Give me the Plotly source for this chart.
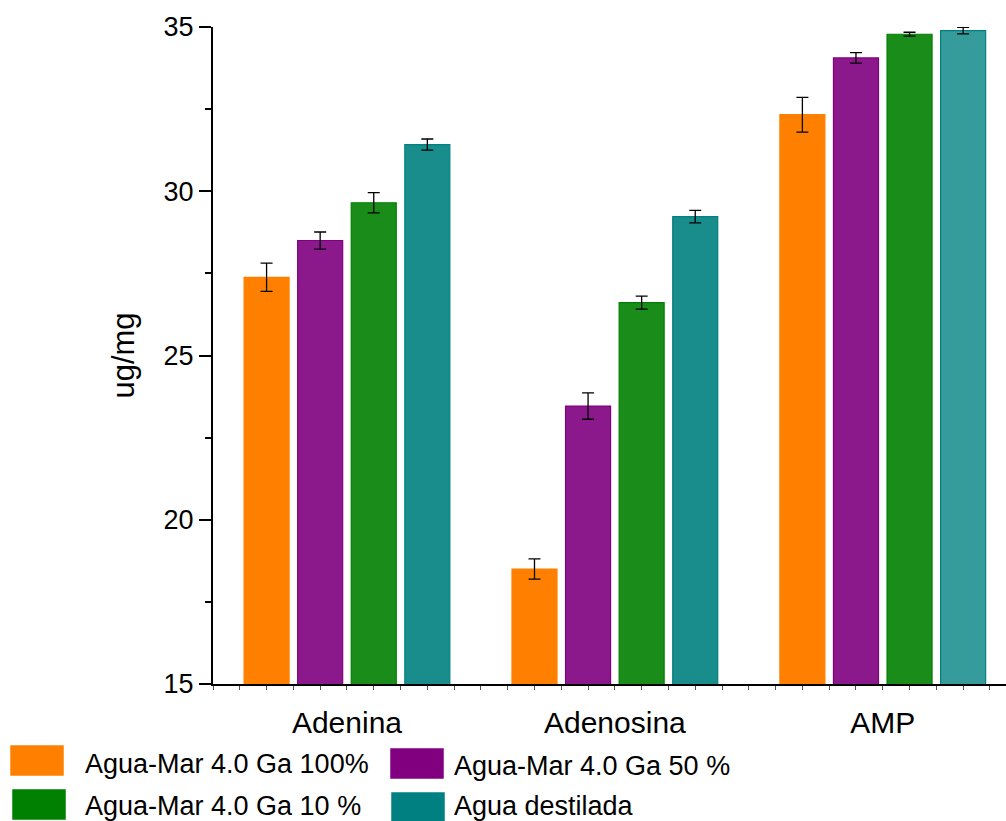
import plotly.graph_objects as go

categories = ["Adenina", "Adenosina", "AMP"]
series_names = ["Agua-Mar 4.0 Ga 100%", "Agua-Mar 4.0 Ga 50 %",
                "Agua-Mar 4.0 Ga 10 %", "Agua destilada"]
vals_100 = [27.38, 18.50, 32.33]
vals_50 = [28.50, 23.46, 34.06]
vals_10 = [29.65, 26.61, 34.78]
vals_dest = [31.42, 29.23, 34.89]
err_100 = [0.43, 0.31, 0.53]
err_50 = [0.26, 0.40, 0.16]
err_10 = [0.31, 0.20, 0.06]
err_dest = [0.17, 0.19, 0.10]
y_ticks = [15, 20, 25, 30, 35]
y_title = "ug/mg"

W, H = 1006, 821
L, R, T, B = 213, 0, 27, 137
FONT = "Liberation Sans, Arial, sans-serif"

fills = [
    ["rgba(255,128,0,1)"] * 3,
    ["rgba(128,0,128,0.9)"] * 3,
    ["rgba(0,128,0,0.9)"] * 3,
    ["rgba(0,128,128,0.9)", "rgba(0,128,128,0.9)", "rgba(0,128,128,0.79)"],
]
lines = ["#FF8000", "#800080", "#008000", "#008080"]
legend_fill = ["#FF8000", "#800080", "#008000", "#008080"]

xs = list(range(len(categories)))
fig = go.Figure()
for name, v, e, f, lc in zip(series_names,
                             [vals_100, vals_50, vals_10, vals_dest],
                             [err_100, err_50, err_10, err_dest], fills, lines):
    fig.add_trace(go.Bar(
        x=xs, y=v, name=name,
        marker=dict(color=f, line=dict(color=lc, width=1.2)),
        error_y=dict(type="data", array=e, visible=True, color="black",
                     thickness=1.3, width=6),
        showlegend=False,
    ))

fig.update_layout(
    width=W, height=H,
    margin=dict(l=L, r=R, t=T, b=B, autoexpand=False),
    paper_bgcolor="white", plot_bgcolor="white",
    barmode="group", bargap=0.2, bargroupgap=0.16,
    font=dict(family=FONT, color="black"),
)
fig.update_xaxes(
    range=[-0.5, 2.46], tickvals=xs, ticktext=categories,
    showgrid=False, zeroline=False,
    showline=True, linecolor="black", linewidth=2,
    ticks="outside", ticklen=4, tickwidth=1, tickcolor="#555",
    ticklabelstandoff=7,
    tickfont=dict(size=30, family=FONT, color="black"),
    minor=dict(tick0=-0.5, dtick=0.1, ticks="outside", ticklen=4,
               tickwidth=1, tickcolor="#555", showgrid=False),
)
fig.update_yaxes(
    range=[15, 35], tickvals=y_ticks,
    showgrid=False, zeroline=False,
    showline=True, linecolor="black", linewidth=2,
    ticks="outside", ticklen=12, tickwidth=2, tickcolor="black",
    tickfont=dict(size=27, family=FONT, color="black"),
    minor=dict(tick0=15, dtick=2.5, ticks="outside", ticklen=6,
               tickwidth=2, tickcolor="black", showgrid=False),
    title=dict(text=y_title, font=dict(size=31, family=FONT, color="black"),
               standoff=20),
)

# custom legend (large swatches), positioned in pixels
def px(x):
    return (x - L) / (W - L - R)

def py(y):
    return (H - B - y) / (H - B - T)

legend_pos = [
    (10, 745, 64, 776, 83, 764),
    (390, 748, 444, 779, 452, 766),
    (12, 789, 66, 820, 83, 806),
    (391, 792, 445, 823, 452, 806),
]
for name, col, (x0, y0, x1, y1, tx, ty) in zip(series_names, legend_fill, legend_pos):
    fig.add_shape(type="rect", xref="paper", yref="paper",
                  x0=px(x0), x1=px(x1), y0=py(y1), y1=py(y0),
                  fillcolor=col, line=dict(color="rgba(255,255,255,0.5)", width=1),
                  layer="above")
    fig.add_annotation(xref="paper", yref="paper", x=px(tx), y=py(ty),
                       text=name, showarrow=False, xanchor="left", yanchor="middle",
                       font=dict(size=27, family=FONT, color="black"))

fig.write_html("out.html", config={"displayModeBar": False},
               post_script="document.body.style.margin='0';document.body.style.overflow='hidden';")
